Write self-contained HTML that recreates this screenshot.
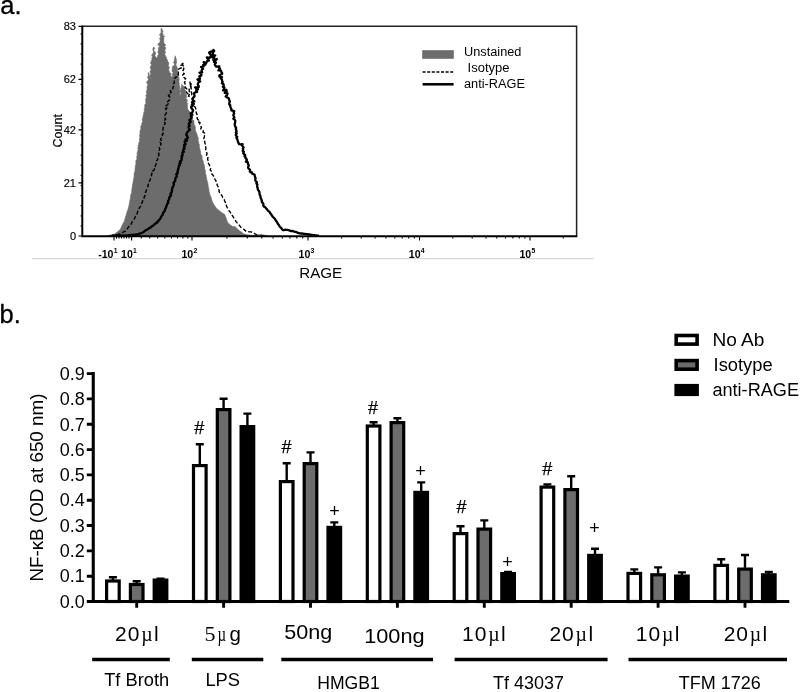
<!DOCTYPE html>
<html lang="en"><head><meta charset="utf-8"><title>Figure: RAGE expression and NF-kB activation</title>
<style>html,body{margin:0;padding:0;background:#fff}body{width:800px;height:692px;overflow:hidden}svg{display:block}text{font-family:"Liberation Sans",Arial,Helvetica,sans-serif;fill:#000}.sf{font-family:"Liberation Serif","Times New Roman",serif}</style>
</head><body>
<svg width="800" height="692" viewBox="0 0 800 692">
<rect width="800" height="692" fill="#fff"/>
<g id="panel-a">
<text x="0.3" y="13.9" font-size="25.5" stroke="#000" stroke-width="0.3">a.</text>
<path d="M108.0 236.0 L108.3 235.5 L109.6 235.2 L111.0 234.8 L112.3 234.6 L113.7 234.2 L115.0 233.8 L115.9 233.0 L117.0 232.3 L118.0 231.3 L119.0 230.5 L120.1 229.7 L120.6 228.5 L121.2 227.4 L121.8 226.1 L122.4 225.0 L122.9 223.7 L123.5 222.6 L124.2 221.4 L124.5 220.2 L124.9 219.0 L125.3 217.8 L125.5 216.5 L126.1 215.4 L126.4 214.2 L126.7 212.9 L127.0 211.7 L127.6 210.6 L127.9 209.3 L128.4 208.1 L128.7 206.8 L128.9 205.6 L129.2 204.3 L129.3 203.0 L129.7 201.7 L129.8 200.4 L130.2 199.2 L130.5 197.9 L130.4 196.6 L130.7 195.3 L131.0 194.0 L131.6 192.8 L131.6 191.5 L131.8 190.2 L131.9 188.9 L132.2 187.7 L132.3 186.4 L132.4 185.1 L132.8 183.8 L132.9 182.6 L133.3 181.3 L133.4 180.0 L133.7 178.8 L133.8 177.5 L134.1 176.2 L134.1 174.9 L134.0 173.6 L134.6 172.4 L134.9 171.1 L135.1 169.8 L135.0 168.5 L135.3 167.2 L135.2 165.9 L135.8 164.7 L135.9 163.3 L135.8 162.0 L135.9 160.7 L136.7 159.5 L137.0 158.3 L136.5 156.9 L137.2 155.7 L137.1 154.4 L137.1 153.1 L137.4 151.8 L137.9 150.6 L138.2 149.3 L137.7 147.9 L138.4 146.7 L138.0 145.4 L138.8 144.2 L138.7 142.9 L139.4 141.6 L139.6 140.3 L139.4 139.0 L140.0 137.7 L139.5 136.3 L139.5 134.9 L140.2 133.7 L139.8 132.3 L140.1 131.0 L140.5 129.7 L140.9 128.5 L140.7 127.1 L140.8 125.9 L141.9 124.8 L141.5 123.4 L142.5 122.3 L142.6 121.0 L142.2 119.7 L142.5 118.4 L142.8 117.2 L143.2 116.0 L143.4 114.7 L143.6 113.5 L143.9 112.2 L144.5 111.0 L144.2 109.7 L144.3 108.4 L144.9 107.2 L144.6 105.8 L144.9 104.5 L146.0 103.4 L145.6 102.0 L145.9 100.8 L145.4 99.4 L146.1 98.2 L146.4 97.0 L145.7 95.6 L146.7 94.4 L146.8 93.1 L146.1 91.8 L147.0 90.6 L146.9 89.3 L147.3 88.1 L146.9 86.7 L147.6 85.5 L147.8 84.3 L146.7 82.9 L146.9 81.6 L148.0 80.4 L148.6 79.2 L147.5 77.7 L148.0 76.4 L148.4 75.1 L148.1 73.8 L148.7 72.4 L149.1 73.7 L149.3 75.0 L149.2 76.3 L150.0 77.5 L149.8 78.8 L150.6 77.6 L149.4 76.2 L150.4 74.9 L150.8 73.7 L150.2 72.3 L150.1 71.0 L151.3 69.8 L150.4 68.5 L150.4 67.2 L150.9 65.9 L151.5 64.7 L150.5 63.3 L151.0 62.0 L151.2 60.7 L152.2 59.5 L151.6 58.2 L152.6 57.1 L151.6 55.6 L152.1 54.4 L153.0 53.3 L153.7 52.1 L153.1 50.7 L152.9 49.4 L153.0 48.1 L153.9 47.0 L154.9 48.3 L153.8 49.8 L154.0 51.2 L155.5 52.4 L155.6 53.8 L154.8 55.3 L155.5 56.8 L156.5 57.8 L157.7 58.0 L157.4 56.6 L157.8 55.4 L158.9 54.1 L157.9 52.8 L158.2 51.5 L158.4 50.2 L158.5 48.9 L158.6 47.6 L159.7 46.4 L158.2 44.9 L158.0 43.6 L160.1 42.5 L160.0 41.2 L160.4 39.9 L159.3 38.5 L160.5 37.3 L160.5 36.1 L159.3 34.5 L160.7 33.4 L161.2 32.1 L161.0 30.7 L161.0 29.3 L161.7 27.9 L161.9 29.2 L162.4 30.4 L163.1 31.5 L162.3 33.1 L163.2 34.1 L162.7 35.7 L164.8 36.0 L163.5 37.6 L164.0 38.8 L163.6 40.1 L163.8 41.4 L163.8 42.6 L164.6 43.9 L165.9 45.1 L164.4 46.4 L165.7 47.6 L165.5 48.9 L164.8 50.3 L165.2 51.5 L165.5 52.8 L164.5 54.1 L165.2 55.3 L165.8 56.4 L166.6 57.4 L166.3 59.1 L167.6 59.7 L167.3 61.1 L168.4 62.2 L168.9 63.4 L168.5 64.8 L168.2 66.2 L169.6 67.3 L168.8 68.8 L168.8 70.1 L169.2 71.3 L169.5 72.7 L171.3 73.5 L170.7 75.1 L170.8 76.5 L172.6 77.3 L171.9 78.8 L172.0 77.5 L172.5 76.3 L172.4 75.1 L172.6 73.9 L173.2 72.7 L172.0 71.3 L172.1 70.1 L172.3 68.9 L172.4 67.6 L172.6 66.2 L174.5 65.2 L174.5 63.9 L173.4 62.3 L174.4 61.1 L174.4 59.7 L174.6 58.4 L174.9 57.1 L175.2 55.8 L175.5 57.1 L176.0 58.4 L176.5 59.7 L176.3 61.1 L176.8 62.3 L176.1 63.7 L176.0 65.1 L176.7 66.4 L177.3 67.5 L177.5 68.9 L177.5 70.3 L177.5 71.7 L177.5 73.1 L178.6 74.2 L178.2 75.6 L178.6 76.9 L179.0 78.2 L179.2 79.5 L179.1 80.8 L178.9 82.1 L179.4 83.4 L179.1 84.7 L179.6 85.9 L180.0 87.2 L179.6 88.5 L179.5 89.9 L180.6 91.1 L180.1 92.4 L180.2 93.7 L179.6 95.0 L180.9 96.4 L180.2 95.0 L181.1 93.8 L181.1 92.5 L180.4 91.2 L180.8 89.9 L180.4 88.6 L181.6 87.5 L181.4 86.2 L181.9 84.9 L181.0 83.9 L182.2 84.8 L183.1 86.0 L184.2 86.8 L185.1 88.0 L184.6 89.4 L185.7 90.5 L185.8 91.8 L185.0 93.2 L186.3 94.3 L186.5 95.6 L186.7 96.9 L185.8 98.3 L187.0 99.4 L187.5 100.7 L186.6 102.3 L187.8 103.5 L187.1 105.0 L187.5 106.3 L187.5 107.7 L187.7 109.3 L188.6 110.1 L188.9 111.3 L190.3 111.9 L190.0 113.4 L190.9 114.3 L191.2 115.5 L192.3 116.5 L192.1 118.0 L192.4 119.4 L193.8 120.3 L194.0 121.7 L194.0 123.0 L194.0 124.4 L194.9 125.6 L195.2 127.0 L195.4 128.3 L195.3 129.7 L195.5 131.0 L196.2 132.1 L196.6 133.3 L197.0 134.6 L197.4 135.8 L197.7 137.0 L198.4 138.2 L198.2 139.6 L198.1 141.0 L198.8 142.3 L198.8 143.7 L199.6 144.9 L199.3 146.3 L199.5 147.7 L199.9 149.0 L200.2 150.3 L200.5 151.6 L200.7 152.9 L200.9 154.3 L201.8 155.4 L202.2 156.7 L202.1 158.2 L202.3 159.5 L203.0 160.7 L203.4 162.0 L203.5 163.3 L204.2 164.6 L204.4 165.9 L204.7 167.2 L204.7 168.6 L205.1 169.9 L205.5 171.2 L205.4 172.6 L205.5 173.9 L206.2 175.1 L206.2 176.5 L206.6 177.8 L206.6 179.1 L207.0 180.3 L207.4 181.6 L207.7 182.8 L208.1 184.1 L208.1 185.4 L208.3 186.7 L208.7 187.9 L208.8 189.2 L209.1 190.5 L209.1 191.8 L209.6 192.9 L209.7 194.3 L210.4 195.5 L210.8 196.8 L211.3 198.0 L211.6 199.4 L212.0 200.6 L212.5 201.8 L213.0 203.1 L213.6 204.1 L214.2 205.2 L215.0 206.1 L215.6 207.1 L216.2 208.2 L217.4 209.1 L218.6 210.0 L219.6 210.9 L220.5 211.7 L221.5 212.4 L222.5 213.1 L223.5 213.7 L224.6 214.3 L225.1 215.5 L225.6 216.8 L226.1 218.0 L226.5 219.3 L226.9 220.5 L227.4 221.8 L228.0 223.0 L229.1 223.9 L230.2 224.7 L231.3 225.6 L232.4 226.5 L233.7 226.4 L235.1 226.4 L235.8 227.4 L236.8 228.2 L237.6 229.1 L238.5 230.0 L239.5 230.8 L240.7 231.5 L241.7 232.3 L242.7 233.1 L243.8 233.9 L245.1 234.1 L246.3 234.4 L247.5 234.7 L248.8 234.9 L250.0 235.1 L251.3 235.3 L252.5 235.6 L253.8 235.5 L255.0 235.2 L256.3 235.1 L257.5 235.0 L258.8 234.7 L260.1 234.6 L261.3 234.4 L262.6 234.7 L263.9 235.0 L265.2 235.3 L266.5 235.6 L267.0 236.0 Z" fill="#6c6c6c" stroke="#6c6c6c" stroke-width="0.6"/>
<path d="M116.6 235.0 L117.8 234.6 L119.0 234.1 L120.2 233.6 L121.4 233.0 L122.6 232.5 L123.7 231.8 L124.9 231.4 L125.8 230.5 L126.6 229.5 L127.5 228.6 L128.1 227.5 L129.0 226.6 L129.8 225.6 L130.7 224.7 L131.4 223.6 L131.8 222.4 L132.6 221.3 L133.2 220.2 L134.1 219.2 L134.7 218.1 L135.2 216.8 L136.1 215.9 L136.4 214.6 L137.2 213.5 L137.5 212.2 L137.9 211.0 L138.9 210.0 L139.1 208.6 L139.6 207.4 L140.5 206.4 L141.0 205.2 L141.2 203.8 L142.1 202.8 L142.4 201.5 L143.0 200.3 L143.1 199.0 L144.1 198.0 L144.3 196.7 L145.0 195.6 L145.4 194.3 L145.4 193.0 L145.9 191.8 L146.2 190.5 L146.7 189.3 L147.1 188.1 L147.6 186.9 L148.2 185.8 L148.1 184.4 L149.0 183.4 L149.1 182.1 L149.5 180.9 L150.3 179.8 L150.4 178.5 L150.6 177.3 L151.1 176.1 L151.7 175.0 L151.6 173.5 L153.0 172.8 L152.5 171.2 L153.8 170.3 L154.4 169.2 L154.0 167.7 L155.3 166.8 L155.4 165.5 L156.1 164.4 L155.9 163.1 L156.2 161.8 L156.7 160.5 L157.9 159.5 L157.2 158.0 L158.2 156.8 L158.7 155.6 L159.0 154.3 L158.5 152.8 L158.8 151.6 L159.3 150.3 L159.9 149.0 L159.2 147.5 L160.4 146.4 L160.7 145.0 L161.1 143.7 L160.0 142.2 L161.7 141.1 L160.6 139.5 L161.2 138.2 L162.0 137.1 L162.8 135.9 L162.1 134.5 L163.4 133.4 L163.0 132.0 L162.8 130.7 L163.1 129.4 L163.1 128.1 L163.2 126.9 L163.5 125.6 L164.6 124.5 L165.4 123.2 L163.9 121.8 L163.8 120.5 L165.8 119.4 L165.0 118.0 L164.9 116.7 L164.7 115.3 L165.7 114.1 L166.4 112.9 L165.9 111.4 L166.1 110.1 L165.5 108.6 L167.7 107.6 L166.0 105.9 L167.3 104.8 L168.4 103.6 L167.0 102.0 L168.7 100.9 L169.5 99.8 L169.1 98.4 L169.8 97.2 L168.5 95.5 L169.6 94.5 L169.2 93.1 L171.3 92.3 L170.3 90.7 L171.0 89.6 L172.7 88.9 L172.8 87.6 L173.6 86.6 L172.8 84.9 L173.3 83.8 L174.4 82.9 L174.2 81.5 L174.2 80.1 L175.0 79.2 L174.8 77.8 L176.0 77.0 L178.1 76.8 L178.6 75.7 L178.3 74.1 L178.4 72.7 L178.4 71.3 L178.2 69.8 L179.2 68.7 L181.1 68.0 L181.8 67.0 L180.9 65.3 L182.6 64.7 L183.0 63.6 L182.1 62.1 L182.3 63.4 L182.1 64.8 L183.4 66.0 L182.5 67.3 L183.9 68.5 L183.3 69.9 L182.6 71.3 L182.9 72.6 L184.3 73.7 L182.5 75.1 L183.6 76.3 L183.9 77.5 L185.7 78.5 L184.4 79.9 L185.4 81.0 L184.4 82.4 L185.1 83.6 L184.5 85.1 L185.2 86.3 L185.2 87.6 L186.7 88.6 L186.2 90.1 L186.3 91.4 L186.4 92.7 L187.9 93.7 L187.0 95.3 L189.1 96.5 L188.9 95.1 L189.8 93.9 L190.0 92.6 L189.1 91.1 L189.4 89.8 L188.6 88.4 L190.6 87.4 L191.1 86.1 L190.1 84.6 L190.9 83.4 L190.0 82.1 L190.1 83.4 L191.8 84.4 L190.4 85.9 L191.1 87.1 L191.0 88.4 L191.8 89.6 L191.5 91.0 L191.3 92.3 L191.8 93.5 L191.8 94.8 L193.7 95.8 L193.6 97.1 L193.1 98.5 L192.8 99.8 L194.1 100.9 L193.2 102.3 L193.5 103.5 L195.1 104.5 L194.3 106.0 L195.1 107.1 L195.7 108.3 L195.8 109.6 L195.6 110.9 L196.1 112.0 L196.4 113.2 L197.1 114.3 L196.7 115.7 L197.2 116.9 L197.2 118.2 L197.6 119.4 L198.7 120.3 L197.8 122.0 L200.0 122.5 L199.7 123.9 L200.3 125.0 L200.5 126.2 L201.5 127.2 L200.7 128.8 L201.9 129.6 L203.2 130.5 L203.0 132.2 L204.6 133.2 L204.0 134.6 L204.5 135.8 L204.3 137.1 L203.8 138.4 L204.2 139.6 L205.0 140.7 L204.6 142.1 L205.0 143.3 L205.6 144.5 L206.2 145.7 L205.7 147.1 L205.9 148.4 L205.6 149.8 L205.8 151.1 L206.5 152.3 L207.1 153.5 L206.5 154.9 L207.9 156.0 L208.0 157.3 L207.6 158.7 L207.8 160.0 L208.7 161.1 L208.4 162.5 L208.5 163.8 L209.4 164.9 L209.7 166.1 L210.3 167.3 L210.6 168.5 L210.2 170.0 L211.2 171.0 L211.0 172.5 L211.6 173.7 L212.6 174.8 L213.5 175.9 L213.5 177.5 L214.5 178.5 L215.2 179.7 L216.0 180.9 L215.8 182.3 L216.6 183.3 L217.1 184.4 L217.4 185.7 L218.1 186.7 L218.0 188.0 L218.6 189.2 L219.1 190.3 L219.1 191.6 L219.8 192.8 L221.0 193.6 L221.4 195.0 L222.3 196.1 L222.6 197.5 L223.4 198.6 L224.3 199.7 L224.7 201.0 L225.3 202.2 L225.3 203.6 L226.2 204.7 L226.5 206.1 L227.1 207.3 L227.8 208.5 L228.5 209.7 L229.2 210.9 L230.2 211.9 L230.7 213.2 L231.6 214.2 L232.2 215.5 L233.0 216.6 L233.8 217.8 L234.4 219.0 L235.2 220.1 L235.9 221.3 L236.7 222.4 L237.6 223.4 L238.6 224.2 L239.4 225.3 L240.2 226.4 L241.0 227.5 L242.1 228.3 L243.2 229.0 L244.4 229.7 L245.3 230.7 L246.4 231.4 L247.7 231.6 L249.0 231.8 L250.3 231.9 L251.6 232.0 L252.8 232.8 L254.1 233.3 L255.3 234.0 L256.5 234.7 L257.8 235.2" fill="none" stroke="#000" stroke-width="1.4" stroke-dasharray="4 2" stroke-linejoin="round"/>
<path d="M112.0 235.6 L113.2 235.6 L114.3 235.6 L115.5 235.6 L116.7 235.5 L117.9 235.6 L119.0 235.6 L120.2 235.5 L121.4 235.6 L122.6 235.6 L123.7 235.4 L124.9 235.6 L126.0 235.6 L127.1 235.4 L128.2 235.4 L129.3 235.1 L130.4 235.0 L131.5 234.9 L132.7 234.9 L133.8 235.0 L134.9 234.7 L136.0 234.7 L137.1 234.5 L138.2 234.5 L139.1 233.8 L140.2 233.4 L141.2 233.1 L142.2 232.7 L143.2 232.2 L144.1 231.4 L145.1 230.8 L146.1 230.1 L147.1 229.5 L148.3 229.0 L149.1 228.1 L150.3 227.7 L151.3 227.0 L152.1 226.0 L153.2 225.5 L154.0 224.8 L154.7 224.0 L155.7 223.4 L156.7 222.9 L157.2 221.9 L158.2 221.4 L158.7 220.3 L159.6 219.5 L160.4 218.6 L160.8 217.4 L161.4 216.4 L162.1 215.5 L162.8 214.6 L162.9 213.4 L163.4 212.4 L164.2 211.5 L164.9 210.6 L165.0 209.4 L165.5 208.4 L166.1 207.5 L166.2 206.3 L166.9 205.4 L167.0 204.2 L167.7 203.3 L168.4 202.3 L168.0 201.0 L168.8 200.1 L169.2 199.1 L169.2 197.9 L169.6 196.8 L170.7 196.0 L171.1 194.9 L170.5 193.6 L171.4 192.7 L172.0 191.8 L171.6 190.5 L172.3 189.6 L172.0 188.3 L172.6 187.4 L173.3 186.4 L173.5 185.3 L174.0 184.3 L173.5 183.0 L174.2 182.0 L175.2 181.1 L175.2 179.9 L175.4 178.7 L175.7 177.6 L176.8 176.7 L176.7 175.5 L176.3 174.1 L177.7 173.3 L177.4 172.0 L177.9 170.9 L177.9 169.6 L178.5 168.5 L178.7 167.3 L178.7 166.1 L179.8 165.1 L179.3 163.7 L180.7 162.9 L179.8 161.4 L181.3 160.6 L181.7 159.5 L181.4 158.3 L182.1 157.3 L181.5 155.9 L182.7 155.1 L182.4 153.8 L182.3 152.6 L183.9 151.8 L183.2 150.5 L183.4 149.3 L184.6 148.5 L183.9 147.1 L184.8 146.2 L184.1 144.8 L185.7 144.0 L184.8 142.6 L184.7 141.4 L186.9 140.8 L185.5 139.3 L187.4 138.6 L187.8 137.5 L187.3 136.2 L186.2 134.7 L186.6 133.6 L187.2 132.5 L187.9 131.5 L188.8 130.5 L189.9 129.6 L188.8 128.1 L188.5 126.9 L189.7 125.9 L188.8 124.6 L188.9 123.5 L190.2 122.5 L190.8 121.5 L189.3 120.1 L190.5 119.1 L191.4 118.1 L191.7 117.0 L190.8 115.7 L192.4 114.8 L190.6 113.4 L192.3 112.5 L192.6 111.4 L193.1 110.3 L192.2 109.0 L191.2 107.7 L191.2 106.6 L192.8 105.7 L191.9 104.4 L193.5 103.6 L192.0 102.2 L194.4 101.4 L192.8 100.1 L192.3 98.8 L193.0 97.8 L194.1 96.9 L194.6 95.8 L194.2 94.6 L193.9 93.2 L195.2 92.4 L197.1 91.8 L196.1 90.2 L197.8 89.5 L195.1 87.4 L198.7 87.3 L198.7 86.1 L197.8 84.6 L198.1 83.4 L198.5 82.3 L200.2 81.5 L197.5 79.5 L199.9 79.0 L199.9 77.7 L199.3 76.3 L201.2 75.7 L201.5 74.5 L199.5 72.7 L202.1 72.3 L201.5 70.8 L202.0 69.7 L203.0 68.8 L201.1 66.9 L203.6 66.5 L203.1 65.0 L205.5 64.6 L203.6 62.1 L206.2 63.1 L206.7 62.0 L207.2 60.9 L208.9 60.7 L206.8 57.4 L209.5 57.9 L210.5 56.8 L211.1 55.8 L210.3 54.3 L209.1 52.8 L210.0 51.9 L212.1 51.4 L213.4 49.9 L214.2 50.9 L213.1 52.4 L212.8 53.6 L212.8 54.8 L215.2 55.5 L212.2 57.3 L214.2 57.8 L213.4 60.0 L216.8 59.0 L214.0 61.9 L215.9 62.6 L214.8 64.3 L215.2 65.5 L216.3 66.7 L219.4 66.3 L219.0 67.7 L219.9 68.5 L218.4 70.4 L221.1 70.6 L221.2 71.7 L221.9 72.6 L222.2 73.7 L219.3 75.5 L219.4 76.6 L222.0 77.1 L220.8 78.5 L222.0 79.6 L222.0 80.8 L222.7 81.9 L221.9 83.3 L223.6 84.3 L223.7 85.5 L222.9 86.8 L224.4 87.3 L224.2 88.6 L223.1 90.3 L226.4 89.8 L226.7 91.1 L224.8 92.9 L227.5 93.4 L227.2 94.7 L225.7 96.4 L226.8 97.3 L228.3 98.1 L228.9 98.6 L229.2 100.1 L229.9 101.3 L229.3 103.0 L229.2 104.3 L230.2 105.1 L230.3 106.3 L230.6 107.4 L231.1 108.4 L231.4 109.2 L231.4 110.4 L234.2 111.2 L233.7 112.5 L234.1 113.7 L233.3 115.0 L233.8 116.2 L234.4 117.3 L233.3 118.7 L234.6 119.7 L235.3 120.9 L235.2 122.1 L234.9 123.3 L234.7 124.5 L234.9 125.7 L235.4 126.8 L236.2 127.9 L235.8 129.1 L236.1 130.1 L236.6 131.2 L235.9 132.4 L236.8 133.4 L235.8 134.7 L236.0 135.7 L237.3 136.7 L236.4 137.9 L237.1 138.8 L237.5 140.0 L237.9 141.3 L238.3 142.6 L239.1 144.2 L240.5 144.3 L242.6 144.2 L242.1 145.4 L242.8 146.4 L243.6 147.4 L242.8 148.7 L243.2 149.7 L242.7 151.0 L243.9 151.8 L243.2 153.2 L244.1 154.1 L245.2 154.9 L244.5 156.3 L245.6 157.1 L245.5 158.3 L246.6 159.1 L247.0 160.1 L245.9 161.6 L247.7 162.2 L247.8 163.3 L248.2 164.4 L248.8 165.5 L248.1 167.0 L248.3 168.2 L249.3 169.1 L250.1 170.0 L249.8 171.4 L250.8 172.3 L252.0 172.5 L252.4 173.8 L253.5 174.1 L254.6 174.8 L254.8 175.9 L255.0 177.0 L255.6 178.0 L255.3 179.2 L255.3 180.4 L255.9 181.3 L256.9 182.2 L256.4 183.5 L257.4 184.3 L257.2 185.6 L257.1 186.8 L257.7 187.9 L257.7 189.1 L258.2 190.2 L259.0 191.1 L259.5 192.2 L259.5 193.4 L259.6 194.6 L260.3 195.6 L260.5 196.7 L260.6 197.9 L261.3 198.9 L261.5 200.0 L261.9 201.1 L262.0 202.3 L263.1 203.1 L263.4 204.2 L263.3 205.4 L263.8 206.5 L265.0 207.1 L265.9 208.0 L266.7 208.9 L267.4 209.9 L268.1 211.0 L269.2 211.5 L269.9 212.4 L270.4 213.5 L271.2 214.2 L271.7 215.3 L272.4 216.2 L273.0 217.0 L273.8 217.8 L274.5 218.6 L275.3 219.3 L275.6 220.5 L276.4 221.2 L277.0 222.1 L277.5 223.0 L278.0 224.0 L278.7 224.8 L279.2 225.7 L279.7 226.6 L280.6 227.3 L281.4 228.2 L282.1 229.3 L283.1 230.1 L284.2 230.1 L285.3 229.7 L286.4 229.8 L287.4 229.9 L288.7 230.1 L289.8 230.6 L291.0 231.1 L292.1 231.0 L293.2 231.2 L294.3 231.7 L295.4 231.8 L296.5 232.1 L297.6 232.8 L298.7 233.0 L299.8 233.4 L300.8 233.5 L301.9 233.5 L302.9 233.7 L304.0 233.9 L305.0 233.9 L306.1 234.2 L307.4 234.1 L308.5 234.3 L309.7 234.4 L310.8 234.8 L312.0 234.8 L313.2 235.1 L314.3 235.1 L315.5 235.3 L316.7 235.5 L317.8 235.6 L319.0 235.6" fill="none" stroke="#000" stroke-width="2.3" stroke-linejoin="round"/>
<path d="M82.3 26.2 H576.6 V236" fill="none" stroke="#222" stroke-width="1.5"/>
<path d="M82.3 25.5 V236.2 H577.3" fill="none" stroke="#000" stroke-width="2"/>
<path d="M78.5 26.3 H82 M78.5 79.3 H82 M78.5 129.9 H82 M78.5 182.9 H82 M78.5 236.0 H82 M80.6 236.0 H82 M80.6 225.9 H82 M80.6 215.8 H82 M80.6 205.7 H82 M80.6 195.6 H82 M80.6 185.5 H82 M80.6 175.4 H82 M80.6 165.2 H82 M80.6 155.1 H82 M80.6 145.0 H82 M80.6 134.9 H82 M80.6 124.8 H82 M80.6 114.7 H82 M80.6 104.6 H82 M80.6 94.5 H82 M80.6 84.4 H82 M80.6 74.3 H82 M80.6 64.2 H82 M80.6 54.1 H82 M80.6 43.9 H82 M80.6 33.8 H82" stroke="#000" stroke-width="1.2" fill="none"/>
<text x="76" y="30.0" font-size="11" text-anchor="end" fill="#222" stroke="#222" stroke-width="0.2">83</text>
<text x="76" y="83.2" font-size="11" text-anchor="end" fill="#222" stroke="#222" stroke-width="0.2">62</text>
<text x="76" y="133.6" font-size="11" text-anchor="end" fill="#222" stroke="#222" stroke-width="0.2">42</text>
<text x="76" y="187.4" font-size="11" text-anchor="end" fill="#222" stroke="#222" stroke-width="0.2">21</text>
<text x="76" y="240.0" font-size="11" text-anchor="end" fill="#222" stroke="#222" stroke-width="0.2">0</text>
<text transform="translate(62.3 130.8) rotate(-90)" font-size="12.5" text-anchor="middle" fill="#111" stroke="#111" stroke-width="0.2">Count</text>
<path d="M114.0 236 V240.4 M131.6 236 V240.4 M192.0 236 V240.4 M308.0 236 V240.4 M419.5 236 V240.4 M530.0 236 V240.4 M341.6 236 V238.6 M361.2 236 V238.6 M375.1 236 V238.6 M385.9 236 V238.6 M394.8 236 V238.6 M402.2 236 V238.6 M408.7 236 V238.6 M414.4 236 V238.6 M452.8 236 V238.6 M472.2 236 V238.6 M486.0 236 V238.6 M496.7 236 V238.6 M505.5 236 V238.6 M512.9 236 V238.6 M519.3 236 V238.6 M524.9 236 V238.6 M226.9 236 V238.6 M247.3 236 V238.6 M261.8 236 V238.6 M273.1 236 V238.6 M282.3 236 V238.6 M290.0 236 V238.6 M296.8 236 V238.6 M302.7 236 V238.6 M141.3 236 V238.6 M149.7 236 V238.6 M157.6 236 V238.6 M164.8 236 V238.6 M171.5 236 V238.6 M177.5 236 V238.6 M182.9 236 V238.6 M187.8 236 V238.6 M116.5 236 V238.6 M119.0 236 V238.6 M121.5 236 V238.6 M124.0 236 V238.6 M126.5 236 V238.6 M129.0 236 V238.6 M563.3 236 V238.6" stroke="#000" stroke-width="1.1" fill="none"/>
<text x="98.2" y="257.6" font-size="10.6" font-weight="bold" fill="#333" text-anchor="start">-10<tspan dy="-4.6" dx="0.2" font-size="6.8">1</tspan></text>
<text x="121.0" y="257.6" font-size="10.6" font-weight="bold" fill="#333" text-anchor="start">10<tspan dy="-4.6" dx="0.2" font-size="6.8">1</tspan></text>
<text x="181.4" y="257.6" font-size="10.6" font-weight="bold" fill="#333" text-anchor="start">10<tspan dy="-4.6" dx="0.2" font-size="6.8">2</tspan></text>
<text x="298.6" y="257.6" font-size="10.6" font-weight="bold" fill="#333" text-anchor="start">10<tspan dy="-4.6" dx="0.2" font-size="6.8">3</tspan></text>
<text x="408.8" y="257.6" font-size="10.6" font-weight="bold" fill="#333" text-anchor="start">10<tspan dy="-4.6" dx="0.2" font-size="6.8">4</tspan></text>
<text x="519.4" y="257.6" font-size="10.6" font-weight="bold" fill="#333" text-anchor="start">10<tspan dy="-4.6" dx="0.2" font-size="6.8">5</tspan></text>
<rect x="32" y="258.2" width="562" height="1" fill="#d0d0d0"/>
<text x="299.2" y="278" font-size="14.8" textLength="43" lengthAdjust="spacingAndGlyphs" fill="#111">RAGE</text>
<rect x="422.2" y="50.2" width="31.6" height="8.6" fill="#6c6c6c"/>
<path d="M422.6 72 H454" stroke="#000" stroke-width="1.3" stroke-dasharray="3 1.6" fill="none"/>
<path d="M422.6 84.3 H453.6" stroke="#000" stroke-width="2.5" fill="none"/>
<text x="464" y="56.2" font-size="12.5" textLength="57.4" lengthAdjust="spacingAndGlyphs" fill="#111">Unstained</text>
<text x="467.6" y="71.7" font-size="12.5" textLength="42" lengthAdjust="spacingAndGlyphs" fill="#111">Isotype</text>
<text x="464" y="87.8" font-size="12.5" textLength="61" lengthAdjust="spacingAndGlyphs" fill="#111">anti-RAGE</text>
</g>
<g id="panel-b">
<text x="-0.4" y="323" font-size="25.5" stroke="#000" stroke-width="0.3">b.</text>
<rect x="676.2" y="335.5" width="20.9" height="8.6" fill="#fff" stroke="#000" stroke-width="3.6"/>
<rect x="676.2" y="360.6" width="20.9" height="8.6" fill="#6c6c6c" stroke="#000" stroke-width="3.6"/>
<rect x="676.2" y="385.7" width="20.9" height="8.6" fill="#000" stroke="#000" stroke-width="3.6"/>
<text x="712.4" y="345.9" font-size="18" textLength="52.0" lengthAdjust="spacingAndGlyphs">No Ab</text>
<text x="713.6" y="371.0" font-size="18" textLength="59.0" lengthAdjust="spacingAndGlyphs">Isotype</text>
<text x="712.4" y="396.1" font-size="18" textLength="86.6" lengthAdjust="spacingAndGlyphs">anti-RAGE</text>
<path d="M112.9 580.4 V577.2 M108.9 577.2 H116.9 M136.7 583.9 V581.2 M132.7 581.2 H140.7 M160.5 579.5 V578.8 M156.5 578.8 H164.5 M199.8 465.0 V444.2 M195.8 444.2 H203.8 M223.6 409.0 V398.8 M219.6 398.8 H227.6 M247.4 426.0 V413.6 M243.4 413.6 H251.4 M286.7 481.0 V463.2 M282.7 463.2 H290.7 M310.5 463.0 V452.4 M306.5 452.4 H314.5 M334.3 526.8 V522.4 M330.3 522.4 H338.3 M373.6 425.4 V422.2 M369.6 422.2 H377.6 M397.4 422.0 V418.2 M393.4 418.2 H401.4 M421.2 491.8 V482.4 M417.2 482.4 H425.2 M460.5 533.0 V526.2 M456.5 526.2 H464.5 M484.3 528.5 V520.4 M480.3 520.4 H488.3 M508.1 573.0 V571.9 M504.1 571.9 H512.1 M547.4 486.5 V484.4 M543.4 484.4 H551.4 M571.2 489.0 V476.2 M567.2 476.2 H575.2 M595.0 554.8 V548.7 M591.0 548.7 H599.0 M634.3 572.8 V569.4 M630.3 569.4 H638.3 M658.1 574.2 V567.4 M654.1 567.4 H662.1 M681.9 575.5 V572.4 M677.9 572.4 H685.9 M721.2 564.8 V559.2 M717.2 559.2 H725.2 M745.0 568.5 V555.0 M741.0 555.0 H749.0 M768.8 574.2 V571.9 M764.8 571.9 H772.8" stroke="#000" stroke-width="2.4" fill="none"/>
<g stroke="#000" stroke-width="3.2"><rect x="106.6" y="581.0" width="12.6" height="20.5" fill="#fff"/><rect x="130.4" y="584.5" width="12.6" height="17.0" fill="#6c6c6c"/><rect x="154.2" y="580.1" width="12.6" height="21.4" fill="#000"/><rect x="193.5" y="465.6" width="12.6" height="135.9" fill="#fff"/><rect x="217.3" y="409.6" width="12.6" height="191.9" fill="#6c6c6c"/><rect x="241.1" y="426.6" width="12.6" height="174.9" fill="#000"/><rect x="280.4" y="481.6" width="12.6" height="119.9" fill="#fff"/><rect x="304.2" y="463.6" width="12.6" height="137.9" fill="#6c6c6c"/><rect x="328.0" y="527.4" width="12.6" height="74.1" fill="#000"/><rect x="367.3" y="426.0" width="12.6" height="175.5" fill="#fff"/><rect x="391.1" y="422.6" width="12.6" height="178.9" fill="#6c6c6c"/><rect x="414.9" y="492.4" width="12.6" height="109.1" fill="#000"/><rect x="454.2" y="533.6" width="12.6" height="67.9" fill="#fff"/><rect x="478.0" y="529.1" width="12.6" height="72.4" fill="#6c6c6c"/><rect x="501.8" y="573.6" width="12.6" height="27.9" fill="#000"/><rect x="541.1" y="487.1" width="12.6" height="114.4" fill="#fff"/><rect x="564.9" y="489.6" width="12.6" height="111.9" fill="#6c6c6c"/><rect x="588.7" y="555.4" width="12.6" height="46.1" fill="#000"/><rect x="628.0" y="573.4" width="12.6" height="28.1" fill="#fff"/><rect x="651.8" y="574.8" width="12.6" height="26.7" fill="#6c6c6c"/><rect x="675.6" y="576.1" width="12.6" height="25.4" fill="#000"/><rect x="714.9" y="565.4" width="12.6" height="36.1" fill="#fff"/><rect x="738.7" y="569.1" width="12.6" height="32.4" fill="#6c6c6c"/><rect x="762.5" y="574.8" width="12.6" height="26.7" fill="#000"/></g>
<path d="M93.25 372.1 V603 M91.7 601.5 H789.3" stroke="#000" stroke-width="3.1" fill="none"/>
<path d="M86.8 601.5 H93 M86.8 576.2 H93 M86.8 550.9 H93 M86.8 525.5 H93 M86.8 500.2 H93 M86.8 474.9 H93 M86.8 449.6 H93 M86.8 424.3 H93 M86.8 398.9 H93 M86.8 373.6 H93 M136.7 602 V607.7 M223.6 602 V607.7 M310.5 602 V607.7 M397.4 602 V607.7 M484.3 602 V607.7 M571.2 602 V607.7 M658.1 602 V607.7 M745.0 602 V607.7" stroke="#000" stroke-width="2.9" fill="none"/>
<text x="59.8" y="607.7" font-size="17.5" textLength="25" lengthAdjust="spacingAndGlyphs">0.0</text>
<text x="59.8" y="582.4" font-size="17.5" textLength="25" lengthAdjust="spacingAndGlyphs">0.1</text>
<text x="59.8" y="557.1" font-size="17.5" textLength="25" lengthAdjust="spacingAndGlyphs">0.2</text>
<text x="59.8" y="531.7" font-size="17.5" textLength="25" lengthAdjust="spacingAndGlyphs">0.3</text>
<text x="59.8" y="506.4" font-size="17.5" textLength="25" lengthAdjust="spacingAndGlyphs">0.4</text>
<text x="59.8" y="481.1" font-size="17.5" textLength="25" lengthAdjust="spacingAndGlyphs">0.5</text>
<text x="59.8" y="455.8" font-size="17.5" textLength="25" lengthAdjust="spacingAndGlyphs">0.6</text>
<text x="59.8" y="430.5" font-size="17.5" textLength="25" lengthAdjust="spacingAndGlyphs">0.7</text>
<text x="59.8" y="405.1" font-size="17.5" textLength="25" lengthAdjust="spacingAndGlyphs">0.8</text>
<text x="59.8" y="379.8" font-size="17.5" textLength="25" lengthAdjust="spacingAndGlyphs">0.9</text>
<text transform="translate(42.8 487.6) rotate(-90)" font-size="18.7" text-anchor="middle" textLength="188" lengthAdjust="spacingAndGlyphs">NF-κB (OD at 650 nm)</text>
<text x="199.2" y="434.4" font-size="18" text-anchor="middle" stroke="#000" stroke-width="0.25">#</text>
<text x="286.4" y="452.8" font-size="18" text-anchor="middle" stroke="#000" stroke-width="0.25">#</text>
<text x="373.0" y="414.0" font-size="18" text-anchor="middle" stroke="#000" stroke-width="0.25">#</text>
<text x="461.5" y="512.9" font-size="18" text-anchor="middle" stroke="#000" stroke-width="0.25">#</text>
<text x="547.2" y="474.9" font-size="18" text-anchor="middle" stroke="#000" stroke-width="0.25">#</text>
<text x="334.4" y="517.2" font-size="18" text-anchor="middle">+</text>
<text x="420.6" y="476.6" font-size="18" text-anchor="middle">+</text>
<text x="507.6" y="567.6" font-size="18" text-anchor="middle">+</text>
<text x="594.4" y="534.4" font-size="18" text-anchor="middle">+</text>
<text x="115.1" y="641.0" font-size="21" letter-spacing="0.9">20</text>
<text class="sf" x="141.2" y="641.0" font-size="21" textLength="11.4" lengthAdjust="spacingAndGlyphs">µ</text>
<text x="154.0" y="641.0" font-size="21">l</text>
<text class="sf" x="204.4" y="641" font-size="22">5</text>
<text class="sf" x="217.4" y="641" font-size="21" textLength="8.6" lengthAdjust="spacingAndGlyphs">µ</text>
<text x="229.4" y="641" font-size="20.5">g</text>
<text x="284.2" y="638.6" font-size="21" textLength="48" lengthAdjust="spacingAndGlyphs">50ng</text>
<text x="364.2" y="642.9" font-size="21" textLength="60.4" lengthAdjust="spacingAndGlyphs">100ng</text>
<text x="462.1" y="640.6" font-size="21" letter-spacing="0.9">10</text>
<text class="sf" x="488.3" y="640.6" font-size="21" textLength="11.4" lengthAdjust="spacingAndGlyphs">µ</text>
<text x="501.1" y="640.6" font-size="21">l</text>
<text x="549.5" y="640.6" font-size="21" letter-spacing="0.9">20</text>
<text class="sf" x="575.6" y="640.6" font-size="21" textLength="11.4" lengthAdjust="spacingAndGlyphs">µ</text>
<text x="588.4" y="640.6" font-size="21">l</text>
<text x="635.8" y="640.6" font-size="21" letter-spacing="0.9">10</text>
<text class="sf" x="662.0" y="640.6" font-size="21" textLength="11.4" lengthAdjust="spacingAndGlyphs">µ</text>
<text x="674.8" y="640.6" font-size="21">l</text>
<text x="723.7" y="640.6" font-size="21" letter-spacing="0.9">20</text>
<text class="sf" x="749.8" y="640.6" font-size="21" textLength="11.4" lengthAdjust="spacingAndGlyphs">µ</text>
<text x="762.6" y="640.6" font-size="21">l</text>
<path d="M92.2 659.5 H169.8 M191.8 659.5 H263.3 M281.3 659.5 H433 M454.6 659.5 H607.6 M628.5 659.5 H787" stroke="#000" stroke-width="3.6" fill="none"/>
<text x="104.2" y="686.4" font-size="18" textLength="65" lengthAdjust="spacingAndGlyphs">Tf Broth</text>
<text x="205.4" y="686.4" font-size="18" textLength="34.6" lengthAdjust="spacingAndGlyphs">LPS</text>
<text x="317.2" y="689.3" font-size="18" textLength="62.6" lengthAdjust="spacingAndGlyphs">HMGB1</text>
<text x="493" y="689" font-size="18" textLength="71" lengthAdjust="spacingAndGlyphs">Tf 43037</text>
<text x="678.8" y="689" font-size="18" textLength="82" lengthAdjust="spacingAndGlyphs">TFM 1726</text>
</g>
</svg></body></html>
